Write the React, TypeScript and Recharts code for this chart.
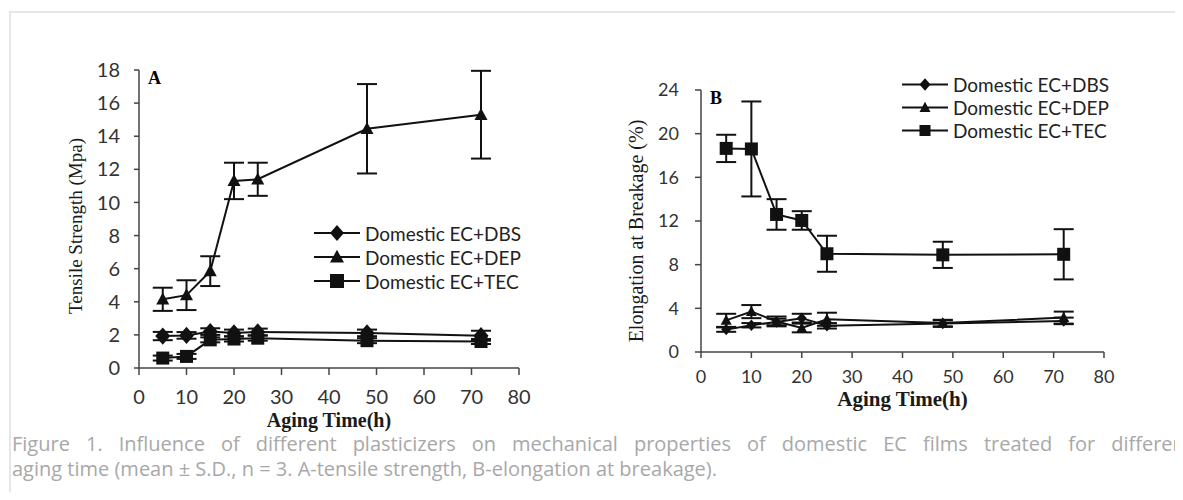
import React from "react";
import { LineChart, Line, XAxis, YAxis, ErrorBar, Legend } from "recharts";

// aging time (h)
const hours = [5, 10, 15, 20, 25, 48, 72];

// A - tensile strength (Mpa)
const tsDBS = [1.93, 1.97, 2.2, 2.12, 2.18, 2.12, 1.95];
const tsDBSErr = [0.25, 0.2, 0.2, 0.2, 0.2, 0.2, 0.3];
const tsTEC = [0.6, 0.7, 1.7, 1.75, 1.8, 1.65, 1.6];
const tsTECErr = [0.15, 0.15, 0.15, 0.15, 0.15, 0.15, 0.15];
const tsDEP = [4.15, 4.4, 5.85, 11.3, 11.4, 14.45, 15.3];
const tsDEPErr = [0.7, 0.9, 0.9, 1.1, 1.0, 2.7, 2.65];

// B - elongation at breakage (%)
const elDBS = [2.05, 2.45, 2.75, 3.1, 2.4, 2.6, 2.85];
const elDBSErr = [0.2, 0.2, 0.3, 0.4, 0.25, 0.3, 0.3];
const elDEP = [2.9, 3.7, 2.8, 2.2, 3.0, 2.65, 3.15];
const elDEPErr = [0.6, 0.6, 0.45, 0.4, 0.6, 0.3, 0.55];
const elTEC = [18.65, 18.6, 12.6, 12.05, 9.0, 8.9, 8.95];
const elTECErr = [1.25, 4.35, 1.4, 0.85, 1.65, 1.2, 2.3];

const xTicks = [0, 10, 20, 30, 40, 50, 60, 70, 80];
const yTicksA = [0, 2, 4, 6, 8, 10, 12, 14, 16, 18];
const yTicksB = [0, 4, 8, 12, 16, 20, 24];

const dataA = hours.map((t, i) => ({
  t,
  dbs: tsDBS[i],
  dbsErr: tsDBSErr[i],
  tec: tsTEC[i],
  tecErr: tsTECErr[i],
  dep: tsDEP[i],
  depErr: tsDEPErr[i],
}));

const dataB = hours.map((t, i) => ({
  t,
  dbs: elDBS[i],
  dbsErr: elDBSErr[i],
  dep: elDEP[i],
  depErr: elDEPErr[i],
  tec: elTEC[i],
  tecErr: elTECErr[i],
}));

const INK = "#111";
const AXIS = "#444";
const TICK = "#333";
const SANS = "Lato, 'Open Sans', sans-serif";
const SERIF = "'Liberation Serif', 'DejaVu Serif', serif";

type Shape = "diamond" | "square" | "triangle";

function Marker({ cx, cy, shape, size }: { cx?: number; cy?: number; shape: Shape; size: number }) {
  if (cx == null || cy == null) return null;
  const h = size / 2;
  if (shape === "square") {
    return <rect x={cx - h} y={cy - h} width={size} height={size} fill={INK} />;
  }
  if (shape === "diamond") {
    const v = h * 1.15;
    return <polygon points={`${cx},${cy - v} ${cx + h},${cy} ${cx},${cy + v} ${cx - h},${cy}`} fill={INK} />;
  }
  return (
    <polygon
      points={`${cx},${cy - h * 1.05} ${cx + h},${cy + h * 0.8} ${cx - h},${cy + h * 0.8}`}
      fill={INK}
    />
  );
}

const dotOf = (id: string, shape: Shape, size: number) => (p: any) =>
  <Marker key={`${id}-${p.index}`} cx={p.cx} cy={p.cy} shape={shape} size={size} />;

const shapes: Record<string, Shape> = { dbs: "diamond", tec: "square", dep: "triangle" };

function legendContent(iconSize: number, rowH: number, fontSize: number) {
  return (props: any) => (
    <div>
      {(props.payload || []).map((e: any) => (
        <div key={e.dataKey} style={{ display: "flex", alignItems: "center", height: rowH }}>
          <svg width={46} height={rowH}>
            <line x1={0} x2={46} y1={rowH / 2} y2={rowH / 2} stroke={INK} strokeWidth={2} />
            <Marker cx={23} cy={rowH / 2} shape={shapes[e.dataKey]} size={iconSize} />
          </svg>
          <span style={{ marginLeft: 5, fontFamily: SANS, fontSize, color: "#222" }}>{e.value}</span>
        </div>
      ))}
    </div>
  );
}

const yTitle = (text: string, dx: number, dy: number, fontSize: number) => (props: any) => {
  const vb = props.viewBox;
  const x = vb.x + dx;
  const y = vb.y + vb.height / 2 + dy;
  return (
    <text
      x={x}
      y={y}
      transform={`rotate(-90 ${x} ${y})`}
      textAnchor="middle"
      fontFamily={SERIF}
      fontSize={fontSize}
      fill="#1a1a1a"
    >
      {text}
    </text>
  );
};

const axisLine = { stroke: AXIS, strokeWidth: 1.5 };

export default function App() {
  return (
    <div style={{ position: "relative", width: 1183, height: 500, margin: -8, overflow: "hidden", background: "#fff" }}>
      <div
        style={{
          position: "absolute",
          left: 9,
          top: 11,
          width: 1240,
          height: 560,
          border: "2px solid #e6e6e6",
        }}
      />

      <div style={{ position: "absolute", left: 0, top: 0 }}>
        <LineChart width={560} height={440} data={dataA} margin={{ top: 70, right: 41, bottom: 6, left: 79 }}>
          <XAxis
            type="number"
            dataKey="t"
            domain={[0, 80]}
            ticks={xTicks}
            axisLine={axisLine}
            tickLine={axisLine}
            tickSize={7}
            tickMargin={15}
            height={66}
            tick={{ fill: TICK, fontSize: 20, fontFamily: SANS }}
            label={{
              value: "Aging Time(h)",
              position: "insideBottom",
              offset: 7,
              fill: "#1a1a1a",
              fontSize: 20,
              fontFamily: SERIF,
              fontWeight: "bold",
            }}
          />
          <YAxis
            type="number"
            domain={[0, 18]}
            ticks={yTicksA}
            interval={0}
            width={60}
            axisLine={axisLine}
            tickLine={axisLine}
            tickSize={5}
            tickMargin={14}
            tick={{ fill: TICK, fontSize: 20, fontFamily: SANS }}
            label={{ content: yTitle("Tensile Strength (Mpa)", 3, 7, 19) }}
          />
          <Legend
            layout="vertical"
            align="center"
            verticalAlign="middle"
            content={legendContent(14, 24, 19)}
            wrapperStyle={{ position: "absolute", left: 314, top: 221, width: 220 }}
          />
          <Line
            dataKey="dbs"
            name="Domestic EC+DBS"
            stroke={INK}
            strokeWidth={2}
            dot={dotOf("a-dbs", "diamond", 15)}
            isAnimationActive={false}
          >
            <ErrorBar dataKey="dbsErr" direction="y" width={10} stroke={INK} strokeWidth={2} />
          </Line>
          <Line
            dataKey="tec"
            name="Domestic EC+TEC"
            stroke={INK}
            strokeWidth={2}
            dot={dotOf("a-tec", "square", 13)}
            isAnimationActive={false}
          >
            <ErrorBar dataKey="tecErr" direction="y" width={10} stroke={INK} strokeWidth={2} />
          </Line>
          <Line
            dataKey="dep"
            name="Domestic EC+DEP"
            stroke={INK}
            strokeWidth={2}
            dot={dotOf("a-dep", "triangle", 13)}
            isAnimationActive={false}
          >
            <ErrorBar dataKey="depErr" direction="y" width={10} stroke={INK} strokeWidth={2} />
          </Line>
        </LineChart>
      </div>

      <div style={{ position: "absolute", left: 580, top: 0 }}>
        <LineChart width={560} height={440} data={dataB} margin={{ top: 90, right: 36, bottom: 28, left: 61 }}>
          <XAxis
            type="number"
            dataKey="t"
            domain={[0, 80]}
            ticks={xTicks}
            axisLine={axisLine}
            tickLine={axisLine}
            tickSize={6}
            tickMargin={12}
            height={60}
            tick={{ fill: TICK, fontSize: 18, fontFamily: SANS }}
            label={{
              value: "Aging Time(h)",
              position: "insideBottom",
              offset: 6,
              fill: "#1a1a1a",
              fontSize: 21,
              fontFamily: SERIF,
              fontWeight: "bold",
            }}
          />
          <YAxis
            type="number"
            domain={[0, 24]}
            ticks={yTicksB}
            interval={0}
            width={60}
            axisLine={axisLine}
            tickLine={axisLine}
            tickSize={6}
            tickMargin={16}
            tick={{ fill: TICK, fontSize: 18, fontFamily: SANS }}
            label={{ content: yTitle("Elongation at Breakage (%)", 2, 10, 20) }}
          />
          <Legend
            layout="vertical"
            align="center"
            verticalAlign="middle"
            content={legendContent(11, 23, 19)}
            wrapperStyle={{ position: "absolute", left: 322, top: 73, width: 230 }}
          />
          <Line
            dataKey="dbs"
            name="Domestic EC+DBS"
            stroke={INK}
            strokeWidth={2}
            dot={dotOf("b-dbs", "diamond", 10)}
            isAnimationActive={false}
          >
            <ErrorBar dataKey="dbsErr" direction="y" width={10} stroke={INK} strokeWidth={2} />
          </Line>
          <Line
            dataKey="dep"
            name="Domestic EC+DEP"
            stroke={INK}
            strokeWidth={2}
            dot={dotOf("b-dep", "triangle", 11)}
            isAnimationActive={false}
          >
            <ErrorBar dataKey="depErr" direction="y" width={10} stroke={INK} strokeWidth={2} />
          </Line>
          <Line
            dataKey="tec"
            name="Domestic EC+TEC"
            stroke={INK}
            strokeWidth={2}
            dot={dotOf("b-tec", "square", 13)}
            isAnimationActive={false}
          >
            <ErrorBar dataKey="tecErr" direction="y" width={10} stroke={INK} strokeWidth={2} />
          </Line>
        </LineChart>
      </div>

      <div style={{ position: "absolute", left: 148, top: 68, fontFamily: SERIF, fontWeight: "bold", fontSize: 18 }}>A</div>
      <div style={{ position: "absolute", left: 710, top: 88, fontFamily: SERIF, fontWeight: "bold", fontSize: 18 }}>B</div>

      <div
        style={{
          position: "absolute",
          left: 12,
          top: 431,
          fontFamily: "'Open Sans', sans-serif",
          fontSize: 20,
          lineHeight: "25px",
          color: "#a8a8a8",
          whiteSpace: "nowrap",
        }}
      >
        <div style={{ width: 1180, textAlign: "justify", textAlignLast: "justify", whiteSpace: "normal" }}>
          Figure 1. Influence of different plasticizers on mechanical properties of domestic EC films treated for different
        </div>
        <div>aging time (mean ± S.D., n = 3. A-tensile strength, B-elongation at breakage).</div>
      </div>
    </div>
  );
}
